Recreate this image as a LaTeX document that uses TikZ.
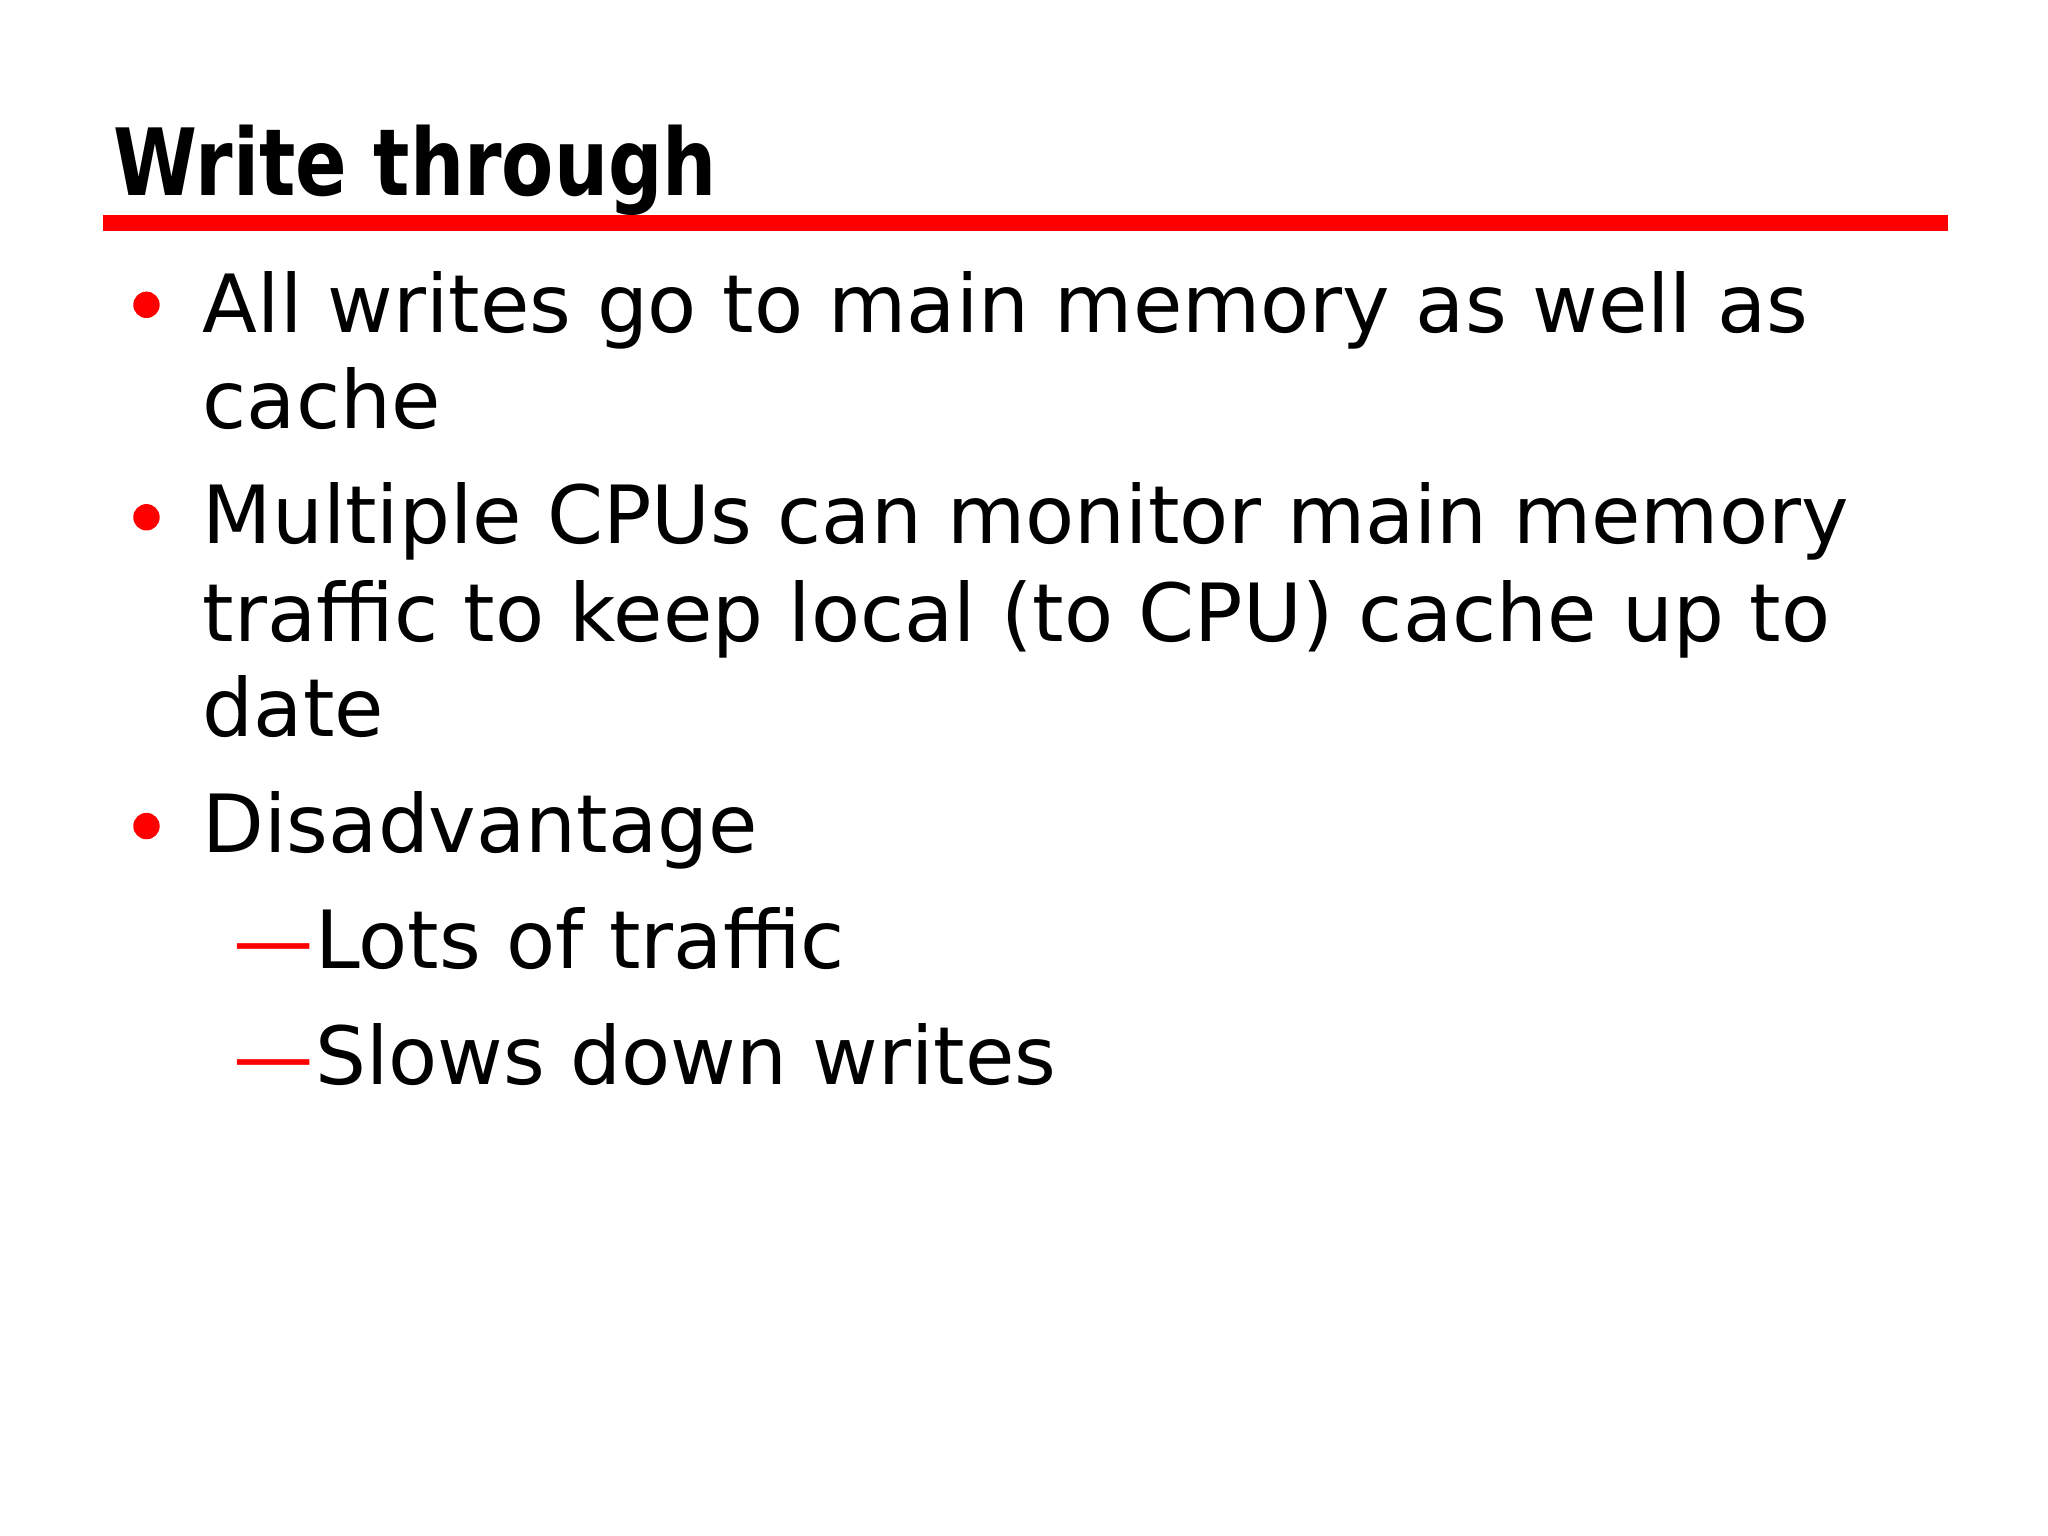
\documentclass[tikz,border=0pt]{standalone}
\usepackage{fontspec}
\setmainfont{DejaVu Sans}
\definecolor{slred}{RGB}{255,0,0}
\begin{document}
\begin{tikzpicture}[x=0.01cm,y=-0.01cm,
  body/.style={anchor=base west,inner sep=0pt,font=\fontsize{17.3}{21}\selectfont},
  bul/.style={circle,fill=slred,inner sep=0pt,minimum size=0.2cm}]
\useasboundingbox (0,0) rectangle (1552,1164);
\node[anchor=base west,inner sep=0pt,font=\fontsize{20}{24}\selectfont\bfseries] (title) at (85,148) {\scalebox{0.82}[1]{Write through}};
\fill[slred] (78,163) rectangle (1476,175);
\node[bul] (b1) at (111,231) {};
\node[body] (t1) at (153,252) {All writes go to main memory as well as};
\node[body] (t1b) at (153,325) {cache};
\node[bul] (b2) at (111,392) {};
\node[body] (t2) at (153,412) {Multiple CPUs can monitor main memory};
\node[body] (t2b) at (153,486) {traffic to keep local (to CPU) cache up to};
\node[body] (t2c) at (153,558) {date};
\node[bul] (b3) at (111,626) {};
\node[body] (t3) at (153,646) {Disadvantage};
\node[body,text=slred] (d1) at (176,734) {—};
\node[body] (s1) at (d1.base east) {Lots of traffic};
\node[body,text=slred] (d2) at (176,822) {—};
\node[body] (s2) at (d2.base east) {Slows down writes};
\end{tikzpicture}
\end{document}
